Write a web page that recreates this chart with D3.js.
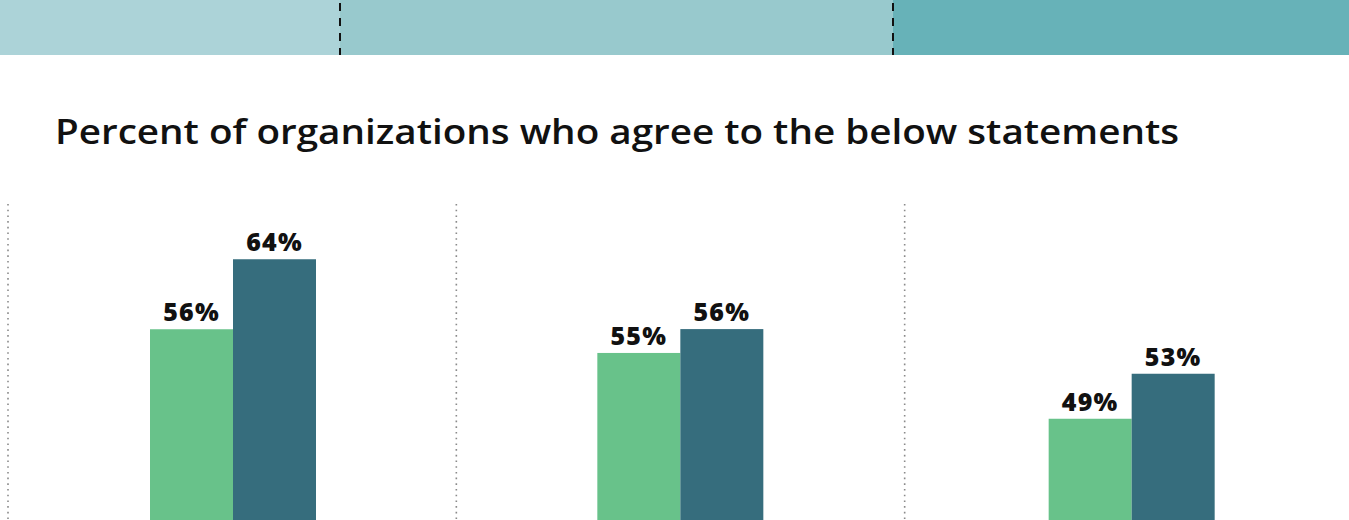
<!DOCTYPE html>
<html>
<head>
<meta charset="utf-8">
<script src="https://cdn.jsdelivr.net/npm/d3@7"></script>
<style>
  html, body { margin: 0; padding: 0; background: #fff; }
  svg { display: block; }
</style>
</head>
<body>
<div id="chart"></div>
<script>
const title = "Percent of organizations who agree to the below statements";
const bandColors = ["#acd3d8", "#98c9cd", "#67b2b8"];
const bandBreaks = [0, 340, 893, 1349];
const panels = ["A", "B", "C"];
const series = ["first", "second"];
const values = [[56, 64], [55, 56], [49, 53]];
// each panel in the source has its own truncated value axis
const panelDomains = [[34.2, 70.2], [48, 61.2], [40, 68]];
const barColors = ["#68c28a", "#366d7d"];

const width = 1349, height = 520;

const svg = d3.select("#chart").append("svg")
  .attr("width", width)
  .attr("height", height);

// top decorative band
svg.append("g")
  .selectAll("rect")
  .data(bandColors)
  .join("rect")
  .attr("x", (d, i) => bandBreaks[i])
  .attr("y", 0)
  .attr("width", (d, i) => bandBreaks[i + 1] - bandBreaks[i])
  .attr("height", 55)
  .attr("fill", d => d);

svg.append("g")
  .selectAll("line")
  .data(bandBreaks.slice(1, -1))
  .join("line")
  .attr("x1", d => d).attr("x2", d => d)
  .attr("y1", 3).attr("y2", 55)
  .attr("stroke", "#111")
  .attr("stroke-width", 2)
  .attr("stroke-dasharray", "8,7");

svg.append("text")
  .attr("x", 55)
  .attr("y", 144)
  .attr("font-family", "'Open Sans', sans-serif")
  .attr("font-weight", 600)
  .attr("font-size", 35)
  .attr("fill", "#111")
  .attr("textLength", 1124)
  .attr("lengthAdjust", "spacingAndGlyphs")
  .text(title);

const px = d3.scaleBand()
  .domain(panels)
  .range([8, 1353]);

const xInner = d3.scaleBand()
  .domain(series)
  .range([142, 308]);

// dotted panel separators
svg.append("g")
  .selectAll("line")
  .data(panels)
  .join("line")
  .attr("x1", d => px(d)).attr("x2", d => px(d))
  .attr("y1", 204).attr("y2", height)
  .attr("stroke", "#8a8a8a")
  .attr("stroke-width", 1.6)
  .attr("stroke-dasharray", "1.6,4.1");

const offsets = [0, -1, 2];

panels.forEach((p, i) => {
  const y = d3.scaleLinear().domain(panelDomains[i]).range([height, 205]);
  const g = svg.append("g")
    .attr("transform", `translate(${px(p) + offsets[i]},0)`);

  const rows = values[i].map((v, j) => ({ key: series[j], v, j }));

  g.selectAll("rect")
    .data(rows)
    .join("rect")
    .attr("x", d => xInner(d.key))
    .attr("y", d => y(d.v))
    .attr("width", xInner.bandwidth())
    .attr("height", d => height - y(d.v))
    .attr("fill", d => barColors[d.j]);

  g.selectAll("text")
    .data(rows)
    .join("text")
    .attr("x", d => xInner(d.key) + xInner.bandwidth() / 2)
    .attr("y", d => y(d.v) - 8)
    .attr("text-anchor", "middle")
    .attr("font-family", "'Open Sans', sans-serif")
    .attr("font-weight", 800)
    .attr("font-size", 25)
    .attr("letter-spacing", 1.2)
    .attr("fill", "#111")
    .text(d => `${d.v}%`);
});
</script>
</body>
</html>
